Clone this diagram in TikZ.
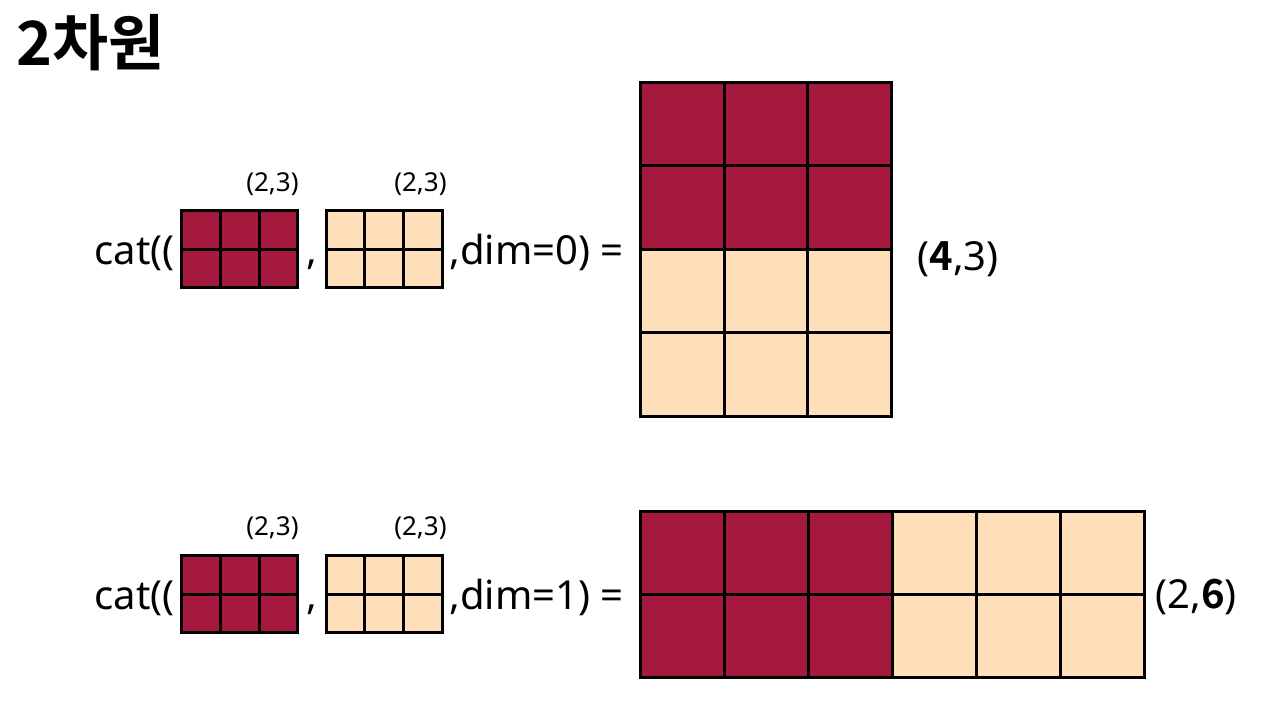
\documentclass[tikz,border=0pt]{standalone}
\usepackage{fontspec}
\setmainfont{Noto Sans}
\newfontfamily\krfont{Noto Sans CJK KR}[BoldFont={Noto Sans CJK KR Bold}]
\usepackage{xcolor}
\usepackage{tikz}
\definecolor{catred}{HTML}{A5193F}
\definecolor{catpeach}{HTML}{FEDFBA}
\newcommand{\bdig}[1]{{\krfont\bfseries #1}}
\tikzset{
  cellR/.style={draw=black, line width=1.5pt, fill=catred},
  cellP/.style={draw=black, line width=1.5pt, fill=catpeach},
  optxt/.style={font=\fontsize{20}{24}\selectfont, inner sep=0pt, anchor=base west},
  shptxt/.style={font=\fontsize{13}{16}\selectfont, inner sep=0pt, anchor=base east},
  ttl/.style={font=\krfont\bfseries\fontsize{30.5}{36}\selectfont, inner sep=0pt, anchor=base west}
}

\begin{document}
\begin{tikzpicture}[x=0.5pt, y=-0.5pt]
\useasboundingbox[fill=white] (0,0) rectangle (1280,720);
\node[ttl] (title) at (16,65) {2차원};
% dim=0
\foreach \r in {0,1} \foreach \c in {0,1,2} {
  \draw[cellR] ({181.5+\c*38.77},{210.8+\r*38.5}) rectangle ++(38.77,38.5);
  \draw[cellP] ({326+\c*38.83},{210.8+\r*38.5}) rectangle ++(38.83,38.5);
}
\node[optxt] (catA) at (94,264.5) {cat((};
\node[optxt, anchor=base] (commaA) at (312,264.5) {,};
\node[optxt] (dimA) at (449,264.5) {,dim=0) =};
\node[shptxt] (shpA1) at (299,191.3) {(2,3)};
\node[shptxt] (shpA2) at (447,191.3) {(2,3)};
\foreach \r in {0,...,3} \foreach \c in {0,1,2} {
  \ifnum\r<2 \def\cst{cellR}\else\def\cst{cellP}\fi
  \draw[\cst] ({640.5+\c*83.7},{82+\r*83.5}) rectangle ++(83.7,83.5);
}
\node[optxt] (outA) at (917,270) {(\bdig{4},3)};
% dim=1
\foreach \r in {0,1} \foreach \c in {0,1,2} {
  \draw[cellR] ({181.5+\c*38.77},{555.5+\r*38.5}) rectangle ++(38.77,38.5);
  \draw[cellP] ({326+\c*38.83},{555.5+\r*38.5}) rectangle ++(38.83,38.5);
}
\node[optxt] (catB) at (94,609.2) {cat((};
\node[optxt, anchor=base] (commaB) at (312,609.2) {,};
\node[optxt] (dimB) at (449,609.2) {,dim=1) =};
\node[shptxt] (shpB1) at (299,535.8) {(2,3)};
\node[shptxt] (shpB2) at (447,535.8) {(2,3)};
\foreach \r in {0,1} \foreach \c in {0,...,5} {
  \ifnum\c<3 \def\cst{cellR}\else\def\cst{cellP}\fi
  \draw[\cst] ({640.5+\c*84},{511.5+\r*83.1}) rectangle ++(84,83.1);
}
\node[optxt] (outB) at (1155,608) {(2,\bdig{6})};
\end{tikzpicture}
\end{document}
